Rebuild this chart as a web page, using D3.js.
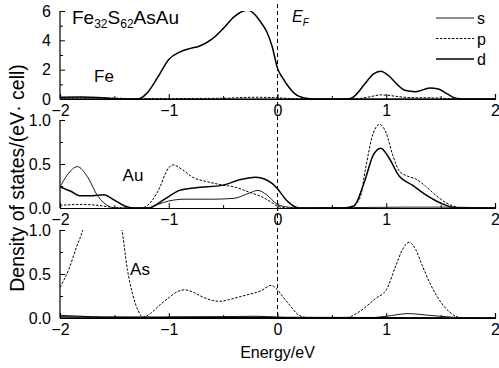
<!DOCTYPE html>
<html>
<head>
<meta charset="utf-8">
<script src="https://cdn.jsdelivr.net/npm/d3@7"></script>
<style>
  body { margin: 0; background: #fff; }
  text { font-family: "Liberation Sans", Arial, sans-serif; fill: #000; }
</style>
</head>
<body>
<div id="chart"></div>
<script>
// projected DOS of Fe32S62AsAu, [energy (eV), dos] pairs
const feS = [[-2,0.02],[-1.5,0.01],[-1,0.01],[0,0.01],[1,0.02],[2,0]];
const feP = [[-2,0.08],[-1.5,0.06],[-1.3,0.02],[-1,0.03],[-0.5,0.05],[-0.2,0.12],[0,0.08],[0.15,0.02],[0.3,0],[0.7,0],[0.85,0.15],[0.95,0.28],[1.05,0.22],[1.2,0.1],[1.45,0.07],[1.6,0.02],[1.7,0],[2,0]];
const feD = [[-2,0.12],[-1.8,0.13],[-1.65,0.1],[-1.5,0.02],[-1.4,0],[-1.28,0],[-1.2,0.4],[-1.1,1.5],[-1,2.7],[-0.9,3.2],[-0.8,3.45],[-0.72,3.6],[-0.6,4.1],[-0.5,4.8],[-0.4,5.6],[-0.33,5.95],[-0.27,6.05],[-0.2,5.7],[-0.15,5.2],[-0.1,4.6],[-0.05,3.6],[0,2.1],[0.05,1.4],[0.1,0.85],[0.15,0.42],[0.2,0.18],[0.3,0.02],[0.4,0],[0.65,0],[0.7,0.15],[0.8,1.0],[0.88,1.7],[0.95,1.9],[1.02,1.6],[1.1,1.0],[1.17,0.6],[1.27,0.5],[1.4,0.75],[1.48,0.68],[1.56,0.35],[1.64,0.05],[1.7,0],[2,0]];

const auS = [[-2,0.24],[-1.93,0.38],[-1.84,0.47],[-1.75,0.36],[-1.65,0.13],[-1.55,0.02],[-1.5,0],[-1.2,0],[-1.1,0.04],[-1,0.08],[-0.85,0.1],[-0.6,0.1],[-0.4,0.11],[-0.26,0.17],[-0.18,0.2],[-0.1,0.15],[0,0.04],[0.1,0.01],[0.2,0],[1.2,0.01],[1.5,0.01],[2,0]];
const auP = [[-2,0.03],[-1.8,0.04],[-1.65,0.03],[-1.5,0.005],[-1.4,0],[-1.25,0],[-1.15,0.09],[-1.08,0.24],[-1.02,0.42],[-0.96,0.49],[-0.88,0.44],[-0.78,0.35],[-0.65,0.3],[-0.5,0.26],[-0.4,0.24],[-0.26,0.18],[-0.15,0.13],[-0.05,0.06],[0,0.02],[0.1,0],[0.6,0],[0.7,0.03],[0.76,0.12],[0.81,0.45],[0.88,0.85],[0.94,0.95],[1,0.85],[1.06,0.6],[1.12,0.42],[1.2,0.36],[1.27,0.33],[1.36,0.25],[1.46,0.14],[1.55,0.06],[1.62,0.02],[1.7,0],[2,0]];
const auD = [[-2,0.24],[-1.9,0.19],[-1.82,0.14],[-1.7,0.14],[-1.6,0.15],[-1.5,0.09],[-1.4,0.02],[-1.33,0],[-1.18,0],[-1.1,0.05],[-1,0.13],[-0.9,0.2],[-0.75,0.23],[-0.5,0.26],[-0.35,0.32],[-0.2,0.35],[-0.12,0.33],[-0.05,0.28],[0,0.22],[0.08,0.09],[0.15,0.02],[0.2,0],[0.6,0],[0.7,0.02],[0.8,0.3],[0.88,0.6],[0.95,0.68],[1.02,0.58],[1.12,0.36],[1.24,0.26],[1.35,0.16],[1.46,0.08],[1.55,0.03],[1.65,0],[2,0]];

const asS = [[-2,0.03],[-1.8,0.02],[-1.6,0.005],[-1.4,0],[-1.1,0],[-1,0.01],[-0.5,0.015],[-0.2,0.02],[0,0.01],[0.2,0],[0.8,0],[1,0.02],[1.2,0.05],[1.4,0.03],[1.6,0.01],[1.8,0],[2,0]];
const asP = [[-2,0.35],[-1.92,0.55],[-1.85,0.8],[-1.79,1.0],[-1.72,1.35],[-1.6,1.6],[-1.5,1.4],[-1.43,1.0],[-1.38,0.55],[-1.33,0.26],[-1.28,0.08],[-1.24,0.01],[-1.17,0.05],[-1.08,0.15],[-0.99,0.24],[-0.92,0.3],[-0.85,0.32],[-0.77,0.29],[-0.69,0.24],[-0.6,0.2],[-0.53,0.19],[-0.44,0.21],[-0.35,0.24],[-0.26,0.27],[-0.15,0.31],[-0.06,0.37],[0,0.32],[0.05,0.24],[0.11,0.15],[0.2,0.03],[0.3,0],[0.62,0],[0.75,0.07],[0.9,0.22],[1,0.32],[1.09,0.6],[1.15,0.78],[1.21,0.86],[1.27,0.78],[1.33,0.6],[1.4,0.4],[1.46,0.26],[1.58,0.07],[1.7,0],[2,0]];
const asD = [[-2,0.01],[0,0.005],[2,0]];

const xMajor = [-2, -1, 0, 1, 2];
const xMinor = [-1.5, -0.5, 0.5, 1.5];
const orbitals = ["s", "p", "d"];

const panels = [
  { name: "Fe", max: 6, major: [0, 2, 4, 6], minor: [1, 3, 5], fmt: d3.format("d"), series: [feS, feP, feD], bottom: 99, lx: 104, ly: 82 },
  { name: "Au", max: 1, major: [0, 0.5, 1], minor: [0.25, 0.75], fmt: d3.format(".1f"), series: [auS, auP, auD], bottom: 208, lx: 133, ly: 181 },
  { name: "As", max: 1, major: [0, 0.5, 1], minor: [0.25, 0.75], fmt: d3.format(".1f"), series: [asS, asP, asD], bottom: 318, lx: 140, ly: 275 }
];

const W = 499, H = 368;
const left = 60, right = 495, ph = 88;
const styles = {
  s: { w: 0.9, dash: null },
  p: { w: 1, dash: "2.5,1.5" },
  d: { w: 1.5, dash: null }
};

const svg = d3.select("#chart").append("svg")
  .attr("width", W).attr("height", H);

const x = d3.scaleLinear().domain([-2, 2]).range([left, right]);

panels.forEach((p, i) => {
  const y = d3.scaleLinear().domain([0, p.max]).range([p.bottom, p.bottom - ph]);
  const g = svg.append("g");

  svg.append("clipPath").attr("id", "clip" + i)
    .append("rect")
    .attr("x", left).attr("y", p.bottom - ph)
    .attr("width", right - left).attr("height", ph);

  const line = d3.line()
    .x(d => x(d[0])).y(d => y(d[1]))
    .curve(d3.curveMonotoneX);

  p.series.forEach((s, k) => {
    const st = styles[orbitals[k]];
    g.append("path")
      .datum(s)
      .attr("clip-path", "url(#clip" + i + ")")
      .attr("d", line)
      .attr("fill", "none")
      .attr("stroke", "#000")
      .attr("stroke-width", st.w)
      .attr("stroke-dasharray", st.dash);
  });

  // bottom axis, ticks inward
  const xa = g.append("g").attr("transform", `translate(0,${p.bottom})`)
    .call(d3.axisBottom(x).tickValues(xMajor).tickSize(-5).tickPadding(10).tickFormat(d3.format("d")));
  xa.append("g").call(d3.axisBottom(x).tickValues(xMinor).tickSize(-3).tickFormat(""))
    .select(".domain").remove();

  // left axis, ticks inward
  const ya = g.append("g").attr("transform", `translate(${left},0)`)
    .call(d3.axisLeft(y).tickValues(p.major).tickSize(-5).tickPadding(9).tickFormat(p.fmt));
  ya.append("g").call(d3.axisLeft(y).tickValues(p.minor).tickSize(-3).tickFormat(""))
    .select(".domain").remove();

  [xa, ya].forEach(a => {
    a.selectAll(".domain").attr("stroke", "#000").attr("stroke-width", 1.2);
    a.selectAll(".tick line").attr("stroke", "#000").attr("stroke-width", 1);
    a.selectAll("text").attr("font-size", 16).attr("font-family", "Liberation Sans, Arial, sans-serif");
  });
  xa.selectAll(".tick text").attr("dy", "0.45em");
  ya.select(".domain").attr("d", `M0,${p.bottom}V${p.bottom - ph}`);

  g.append("text").attr("x", p.lx).attr("y", p.ly)
    .attr("text-anchor", "middle").attr("font-size", 17).text(p.name);
});

// Fermi level
svg.append("line")
  .attr("x1", x(0)).attr("x2", x(0))
  .attr("y1", 4).attr("y2", panels[2].bottom)
  .attr("stroke", "#000").attr("stroke-width", 1)
  .attr("stroke-dasharray", "4,3");

const ef = svg.append("text").attr("x", 292).attr("y", 22)
  .attr("font-size", 16).attr("font-style", "italic");
ef.append("tspan").text("E");
ef.append("tspan").attr("font-size", 10).attr("dy", 4).text("F");

// title
const t = svg.append("text").attr("x", 72).attr("y", 24).attr("font-size", 19);
t.append("tspan").text("Fe");
t.append("tspan").attr("font-size", 12).attr("dy", 4).text("32");
t.append("tspan").attr("dy", -4).text("S");
t.append("tspan").attr("font-size", 12).attr("dy", 4).text("62");
t.append("tspan").attr("dy", -4).text("AsAu");

// legend
orbitals.forEach((o, k) => {
  const yy = 18 + k * 20.5;
  svg.append("line")
    .attr("x1", 436).attr("x2", 474).attr("y1", yy).attr("y2", yy)
    .attr("stroke", "#000").attr("stroke-width", styles[o].w)
    .attr("stroke-dasharray", styles[o].dash);
  svg.append("text").attr("x", 477).attr("y", yy + 6)
    .attr("font-size", 16).text(o);
});

// axis titles
svg.append("text")
  .attr("transform", `translate(24,178) rotate(-90)`)
  .attr("text-anchor", "middle").attr("font-size", 19.5)
  .text("Density of states/(eV\u00b7 cell)");

svg.append("text").attr("x", x(0)).attr("y", 358)
  .attr("text-anchor", "middle").attr("font-size", 16)
  .text("Energy/eV");
</script>
</body>
</html>
